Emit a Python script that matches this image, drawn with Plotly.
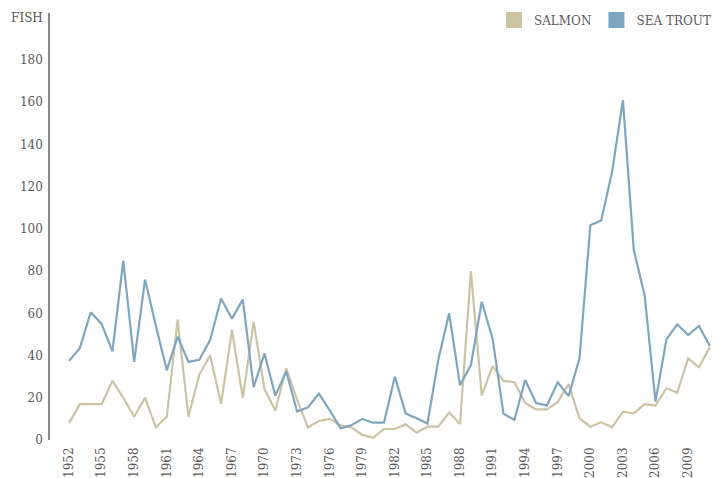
import plotly.graph_objects as go

years = list(range(1952, 2012))

salmon = [8, 17, 17, 17, 28, 20, 11, 20, 6, 11,
          57, 11, 31, 40, 17, 52, 20, 56, 24, 14,
          34, 19, 6, 9, 10, 7, 6, 2.4, 1.1, 5.2,
          5.2, 7.4, 3.5, 6.3, 6.3, 13, 7.6, 80, 21, 35,
          28, 27.5, 17.5, 14.5, 14.5, 18, 26.5, 10.3, 6.3, 8.4,
          6, 13.4, 12.6, 17, 16.3, 24.5, 22.4, 38.7, 34.4, 44]

sea_trout = [37.5, 43.5, 60.5, 55, 42, 85, 37, 76, 54, 33,
             49, 37, 38, 47.5, 67, 57.5, 66.5, 25, 41, 21,
             32.5, 13.5, 15.5, 22, 14.2, 5.5, 7, 10, 8.2, 8.2,
             30, 12.5, 10.3, 7.8, 38, 60, 26, 35.5, 65.5, 48,
             12.5, 9.5, 28.4, 17.5, 16.4, 27.3, 20.8, 38.7, 101.8, 104,
             127, 161, 90, 68.5, 18.2, 47.7, 54.8, 49.7, 54, 44.5]

tick_years = list(range(1952, 2010, 3))
y_ticks = list(range(0, 201, 20))
y_labels = [str(v) for v in y_ticks[:-1]] + ['FISH']

salmon_col = '#cbc4a4'
trout_col = '#7fa6c1'
font = 'DejaVu Serif, serif'

fig = go.Figure()

fig.add_trace(go.Scatter(x=years, y=salmon, mode='lines', name='SALMON',
                         line=dict(color=salmon_col, width=2.2), showlegend=False))
fig.add_trace(go.Scatter(x=years, y=sea_trout, mode='lines', name='SEA TROUT',
                         line=dict(color=trout_col, width=2.2), showlegend=False))

# legend swatches (squares)
for name, col in [('SALMON', salmon_col), ('SEA TROUT', trout_col)]:
    fig.add_trace(go.Scatter(x=[None], y=[None], mode='markers', name=name,
                             marker=dict(symbol='square', size=16, color=col)))

# page body has an 8px margin, so the figure is a bit smaller than the window
fig.update_layout(
    width=717, height=470,
    margin=dict(l=42, r=13, t=5, b=38, autoexpand=False),
    plot_bgcolor='white', paper_bgcolor='white',
    font=dict(family=font, size=12, color='#5a5a5a'),
    showlegend=True,
    legend=dict(orientation='h', x=1.006, xanchor='right',
                y=1.0176, yanchor='top',
                font=dict(family=font, size=12, color='#5a5a5a'),
                bgcolor='rgba(0,0,0,0)'),
    xaxis=dict(range=[1950.25, 2011.2], tickvals=tick_years, tickangle=-90,
               showgrid=False, zeroline=False, showline=False, ticks='',
               ticklabelstandoff=4, automargin=False),
    yaxis=dict(range=[0, 202.3], tickvals=y_ticks, ticktext=y_labels,
               showgrid=False, zeroline=False, showline=True, linecolor='#888888',
               linewidth=1.5, ticks='', ticklabelstandoff=3, automargin=False),
)

fig.write_html("out.html")
